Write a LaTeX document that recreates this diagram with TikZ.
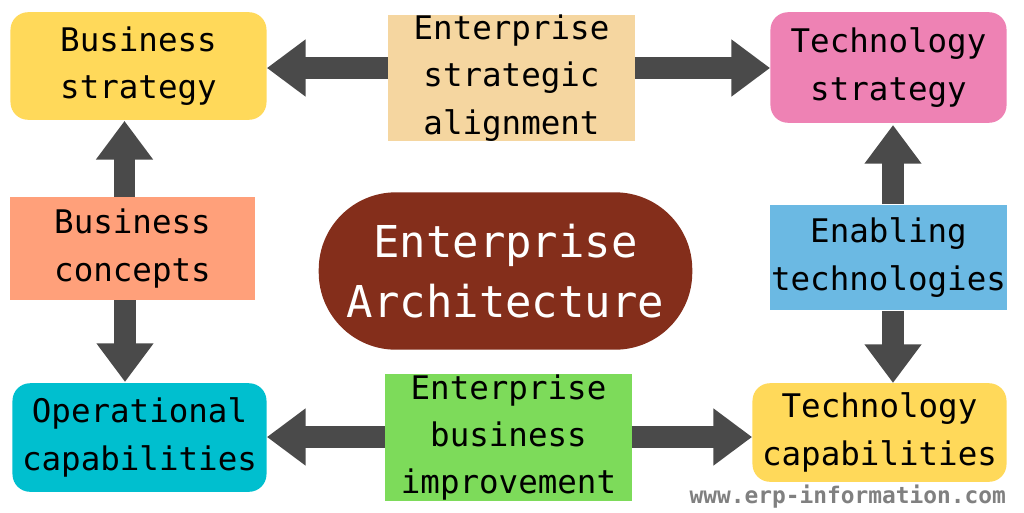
\documentclass[tikz,border=0pt]{standalone}
\usepackage{fontspec}
\setmainfont{DejaVu Sans Mono}
\usetikzlibrary{arrows.meta,shapes.geometric}
\definecolor{yel}{HTML}{FFD95A}
\definecolor{tan}{HTML}{F5D6A0}
\definecolor{pnk}{HTML}{EE82B4}
\definecolor{sal}{HTML}{FFA07A}
\definecolor{brn}{HTML}{842E1B}
\definecolor{blu}{HTML}{6BB9E3}
\definecolor{cyn}{HTML}{00BFCF}
\definecolor{grn}{HTML}{7DDB5A}
\definecolor{ar}{HTML}{4A4A4A}
\tikzset{
 box/.style={inner sep=0pt,align=center,font=\fontsize{18.5}{27}\selectfont},
 rbox/.style={box,rounded corners=10pt},
 blk/.style={ar,line width=12.5pt,-{Triangle[width=31pt,length=22pt]}}
}
\begin{document}
\begin{tikzpicture}[x=0.02cm,y=-0.02cm]
\useasboundingbox[fill=white] (0,0) rectangle (1024,512);
\node[rbox,fill=yel,minimum width=257*0.567pt,minimum height=108*0.567pt] (bs) at (138.5,66) {Business\\strategy};
\node[box,fill=tan,minimum width=247*0.567pt,minimum height=117*0.567pt] (esa) at (511.5,78) {Enterprise\\strategic\\alignment};
\node[rbox,fill=pnk,minimum width=237*0.567pt,minimum height=111*0.567pt] (ts) at (888.5,67.5) {Technology\\strategy};
\node[box,fill=sal,minimum width=245*0.567pt,minimum height=103*0.567pt] (bc) at (132.5,248.5) {Business\\concepts};
\node[rectangle,rounded corners=44pt,fill=brn,text=white,inner sep=0pt,minimum width=375*0.567pt,minimum height=158*0.567pt,align=center,font=\fontsize{25}{34}\selectfont] (ea) at (505.5,271) {Enterprise\\Architecture};
\node[box,fill=blu,minimum width=237*0.567pt,minimum height=105*0.567pt] (et) at (888.5,257.5) {Enabling\\technologies};
\node[rbox,fill=cyn,minimum width=255*0.567pt,minimum height=109*0.567pt] (oc) at (139.5,437.5) {Operational\\capabilities};
\node[box,fill=grn,minimum width=247*0.567pt,minimum height=115*0.567pt] (ebi) at (508.5,437.5) {Enterprise\\business\\improvement};
\node[rbox,fill=yel,minimum width=255*0.567pt,minimum height=99*0.567pt] (tc) at (879.5,432.5) {Technology\\capabilities};
\node[text=gray,font=\bfseries\fontsize{13}{15}\selectfont,anchor=east] (wm) at (1012,497) {www.erp-information.com};
\coordinate (a1) at (385,68);
\coordinate (a2) at (643,68);
\draw[blk] (esa.west|-a1) -- (bs.east|-a1);
\draw[blk] (esa.east|-a2) -- (ts.west|-a2);
\draw[blk] (bc.north-|bs.south) ++(-14,0) -- ++(0,-76);
\draw[blk] (125,300) -- (125,382);
\draw[blk] (893,204) -- (893,125);
\draw[blk] (893,311) -- (893,383);
\draw[blk] (ebi.west|-0,437) -- (oc.east|-0,437);
\draw[blk] (ebi.east|-0,437) -- (tc.west|-0,437);
\end{tikzpicture}
\end{document}
